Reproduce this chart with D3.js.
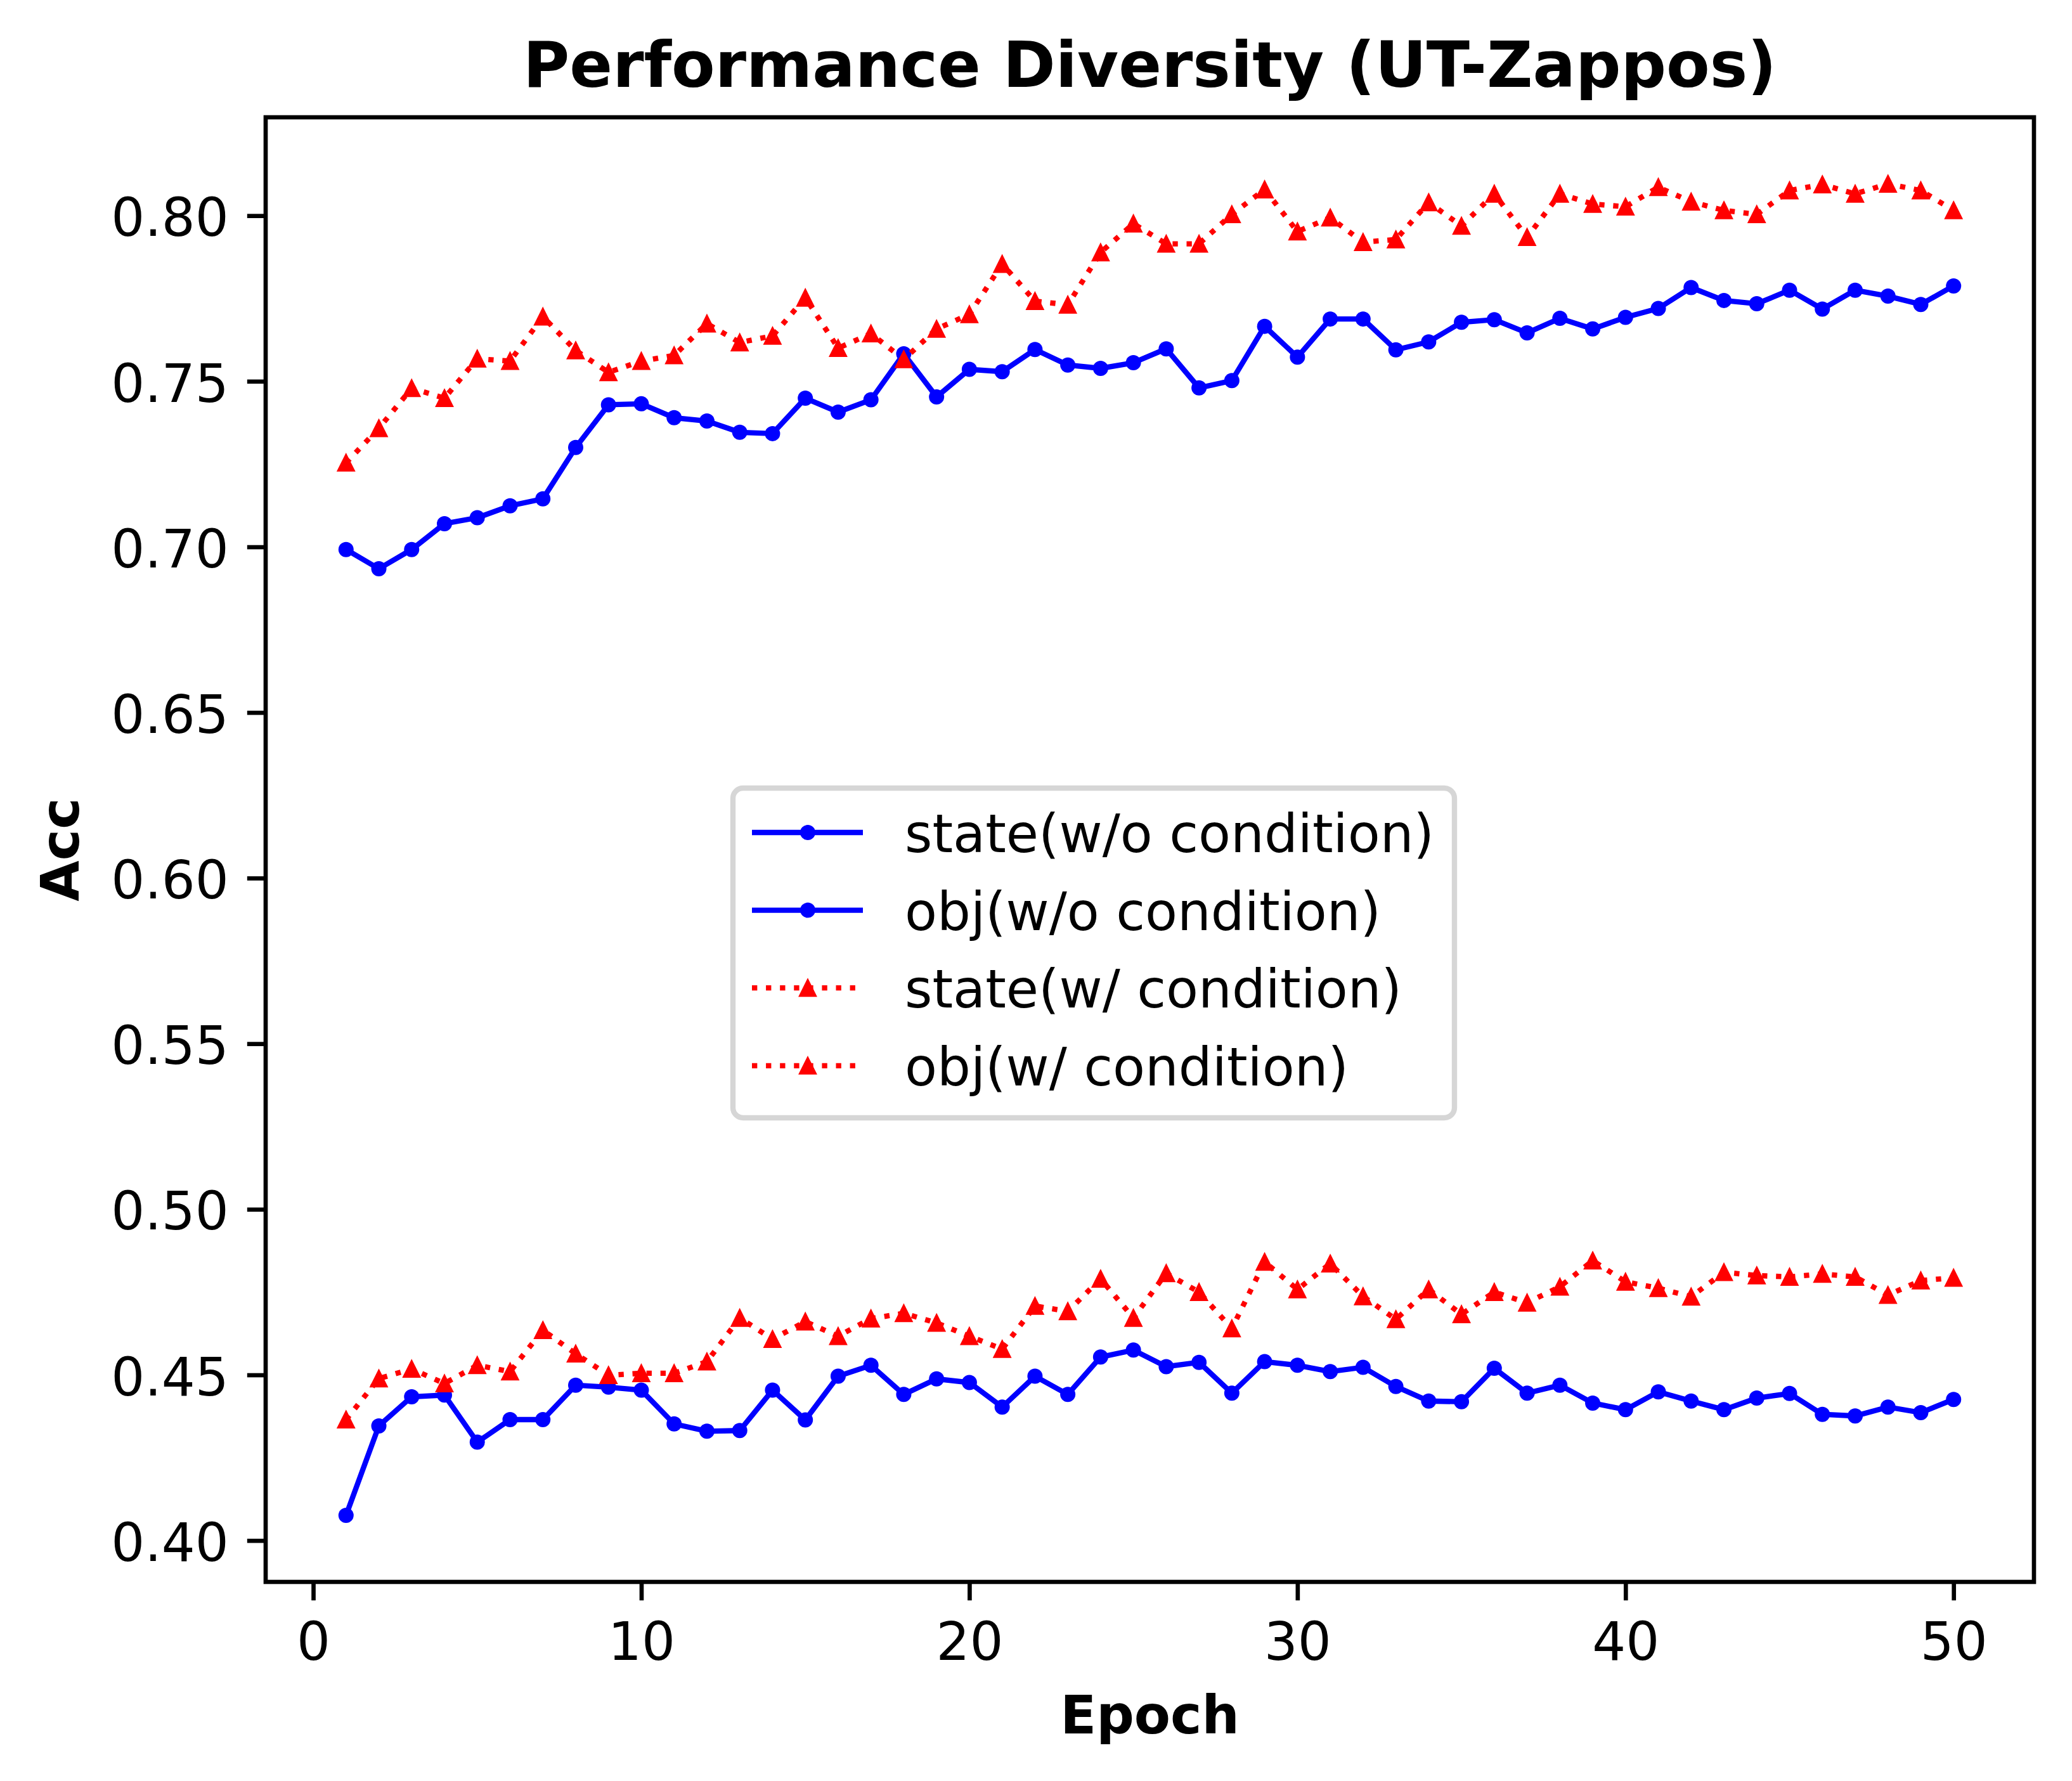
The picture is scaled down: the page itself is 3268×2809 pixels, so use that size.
<!DOCTYPE html>
<html>
<head>
<meta charset="utf-8">
<script src="https://cdn.jsdelivr.net/npm/d3@7"></script>
<style>
  body { margin: 0; background: #fff; }
  text { font-family: "DejaVu Sans", sans-serif; }
</style>
</head>
<body>
<svg id="chart"></svg>
<script>
// Epochs on the x axis
var epochs = [1, 2, 3, 4, 5, 6, 7, 8, 9, 10, 11, 12, 13, 14, 15, 16, 17, 18, 19, 20,
    21, 22, 23, 24, 25, 26, 27, 28, 29, 30, 31, 32, 33, 34, 35, 36, 37, 38, 39, 40,
    41, 42, 43, 44, 45, 46, 47, 48, 49, 50];

// Accuracy series
var stateWo = [0.4076, 0.4346, 0.4434, 0.4439, 0.4297, 0.4365, 0.4365, 0.4469, 0.4463, 0.4454,
    0.4352, 0.4330, 0.4332, 0.4454, 0.4364, 0.4496, 0.4529, 0.4441, 0.4488, 0.4477,
    0.4403, 0.4496, 0.4441, 0.4554, 0.4575, 0.4525, 0.4538, 0.4445, 0.4540, 0.4529,
    0.4510, 0.4523, 0.4465, 0.4421, 0.4419, 0.4520, 0.4445, 0.4469, 0.4415, 0.4395,
    0.4449, 0.4421, 0.4395, 0.4430, 0.4444, 0.4381, 0.4376, 0.4403, 0.4386, 0.4426];

var objWo = [0.6992, 0.6934, 0.6992, 0.7070, 0.7088, 0.7124, 0.7145, 0.7300, 0.7429, 0.7432,
    0.7390, 0.7380, 0.7346, 0.7342, 0.7449, 0.7407, 0.7444, 0.7583, 0.7453, 0.7536,
    0.7529, 0.7596, 0.7549, 0.7539, 0.7556, 0.7598, 0.7480, 0.7502, 0.7666, 0.7573,
    0.7688, 0.7688, 0.7595, 0.7619, 0.7678, 0.7686, 0.7646, 0.7690, 0.7658, 0.7693,
    0.7720, 0.7783, 0.7744, 0.7734, 0.7775, 0.7718, 0.7775, 0.7757, 0.7732, 0.7788];

var stateW = [0.4365, 0.4489, 0.4518, 0.4474, 0.4529, 0.4510, 0.4635, 0.4564, 0.4499, 0.4505,
    0.4505, 0.4540, 0.4672, 0.4608, 0.4661, 0.4617, 0.4670, 0.4686, 0.4657, 0.4617,
    0.4578, 0.4708, 0.4692, 0.4790, 0.4672, 0.4807, 0.4750, 0.4640, 0.4841, 0.4758,
    0.4836, 0.4737, 0.4668, 0.4758, 0.4683, 0.4750, 0.4718, 0.4766, 0.4845, 0.4781,
    0.4762, 0.4736, 0.4810, 0.4800, 0.4796, 0.4805, 0.4796, 0.4741, 0.4785, 0.4793];

var objW = [0.7254, 0.7358, 0.7479, 0.7449, 0.7568, 0.7561, 0.7695, 0.7593, 0.7527, 0.7561,
    0.7578, 0.7674, 0.7617, 0.7637, 0.7752, 0.7600, 0.7644, 0.7566, 0.7658, 0.7702,
    0.7854, 0.7742, 0.7731, 0.7889, 0.7976, 0.7915, 0.7915, 0.8004, 0.8079, 0.7952,
    0.7994, 0.7920, 0.7928, 0.8040, 0.7969, 0.8066, 0.7935, 0.8066, 0.8035, 0.8027,
    0.8086, 0.8042, 0.8016, 0.8004, 0.8076, 0.8094, 0.8066, 0.8096, 0.8076, 0.8016];

var seriesLabels = ["state(w/o condition)", "obj(w/o condition)", "state(w/ condition)", "obj(w/ condition)"];
var xTicks = [0, 10, 20, 30, 40, 50];
var yTicks = [0.40, 0.45, 0.50, 0.55, 0.60, 0.65, 0.70, 0.75, 0.80];

var titleText = "Performance Diversity (UT-Zappos)";
var xLabel = "Epoch";
var yLabel = "Acc";

// Figure size and axes box (pixels at 600 dpi)
const W = 3268, H = 2809;
const margin = {top: 185, left: 419, right: W - 3208, bottom: H - 2495};
const pt = 600 / 72;   // one point in pixels

var series = [
    {label: seriesLabels[0], values: stateWo, color: "#0000ff", dash: null, marker: "circle"},
    {label: seriesLabels[1], values: objWo, color: "#0000ff", dash: null, marker: "circle"},
    {label: seriesLabels[2], values: stateW, color: "#ff0000", dash: [1 * pt, 1.65 * pt], marker: "triangle"},
    {label: seriesLabels[3], values: objW, color: "#ff0000", dash: [1 * pt, 1.65 * pt], marker: "triangle"}
];

var svg = d3.select("#chart")
    .attr("width", W)
    .attr("height", H);

// Scales with matplotlib-like 5% margins
var xExt = d3.extent(epochs);
var xPad = (xExt[1] - xExt[0]) * 0.05;
var x = d3.scaleLinear()
    .domain([xExt[0] - xPad, xExt[1] + xPad])
    .range([margin.left, W - margin.right]);

var allVals = [].concat(stateWo, objWo, stateW, objW);
var yExt = d3.extent(allVals);
var yPad = (yExt[1] - yExt[0]) * 0.05;
var y = d3.scaleLinear()
    .domain([yExt[0] - yPad, yExt[1] + yPad])
    .range([H - margin.bottom, margin.top]);

var line = d3.line()
    .x(function(d, i) { return x(epochs[i]); })
    .y(function(d) { return y(d); });

// triangle marker path, centered on bbox middle like matplotlib '^'
function triPath(s) {
    return "M0," + (-s) + "L" + s + "," + s + "L" + (-s) + "," + s + "Z";
}

function drawMarker(sel, s) {
    if (s.marker === "circle") {
        sel.append("circle")
            .attr("r", 12)
            .attr("fill", s.color);
    } else {
        sel.append("path")
            .attr("d", triPath(12.5))
            .attr("fill", s.color)
            .attr("stroke", s.color)
            .attr("stroke-width", 3)
            .attr("stroke-linejoin", "miter");
    }
}

// Lines and markers
series.forEach(function(s) {
    var g = svg.append("g");
    g.append("path")
        .datum(s.values)
        .attr("fill", "none")
        .attr("stroke", s.color)
        .attr("stroke-width", 1 * pt)
        .attr("stroke-dasharray", s.dash ? s.dash.join(",") : null)
        .attr("d", line);

    g.selectAll(".m")
        .data(s.values).enter()
        .append("g")
        .attr("class", "m")
        .attr("transform", function(d, i) { return `translate(${x(epochs[i])},${y(d)})`; })
        .each(function() { drawMarker(d3.select(this), s); });
});

// Axes
var fontSize = 10 * pt;

var xAxis = svg.append("g")
    .attr("transform", `translate(0,${H - margin.bottom})`)
    .call(d3.axisBottom(x)
        .tickValues(xTicks)
        .tickSize(3.5 * pt)
        .tickPadding(35)
        .tickFormat(d3.format("d")));

var yAxis = svg.append("g")
    .attr("transform", `translate(${margin.left},0)`)
    .call(d3.axisLeft(y)
        .tickValues(yTicks)
        .tickSize(3.5 * pt)
        .tickPadding(3.5 * pt)
        .tickFormat(d3.format(".2f")));

[xAxis, yAxis].forEach(function(a) {
    a.select(".domain").remove();
    a.selectAll(".tick line")
        .attr("stroke", "#000")
        .attr("stroke-width", 0.8 * pt);
    a.selectAll(".tick text")
        .attr("fill", "#000")
        .style("font-family", "'DejaVu Sans', sans-serif")
        .style("font-size", fontSize + "px");
});
yAxis.selectAll(".tick text").attr("dy", "0.38em");

// Frame
svg.append("rect")
    .attr("x", margin.left)
    .attr("y", margin.top)
    .attr("width", W - margin.left - margin.right)
    .attr("height", H - margin.top - margin.bottom)
    .attr("fill", "none")
    .attr("stroke", "#000")
    .attr("stroke-width", 0.8 * pt);

// Title and axis labels
var cx = (margin.left + W - margin.right) / 2;
var cy = (margin.top + H - margin.bottom) / 2;

svg.append("text")
    .attr("x", cx)
    .attr("y", 137)
    .attr("text-anchor", "middle")
    .style("font-size", 12 * pt + "px")
    .style("font-weight", "bold")
    .text(titleText);

svg.append("text")
    .attr("x", cx)
    .attr("y", 2734)
    .attr("text-anchor", "middle")
    .style("font-size", fontSize + "px")
    .style("font-weight", "bold")
    .text(xLabel);

svg.append("text")
    .attr("transform", `translate(124,${cy}) rotate(-90)`)
    .attr("text-anchor", "middle")
    .style("font-size", fontSize + "px")
    .style("font-weight", "bold")
    .text(yLabel);

// Legend
var legend = svg.append("g")
    .attr("transform", "translate(1156,1243)");

legend.append("rect")
    .attr("width", 1138)
    .attr("height", 520)
    .attr("rx", 16)
    .attr("fill", "#fff")
    .attr("fill-opacity", 0.8)
    .attr("stroke", "#d6d6d6")
    .attr("stroke-width", 1 * pt);

var rowH = 122.6;
series.forEach(function(s, i) {
    var row = legend.append("g")
        .attr("transform", `translate(0,${70 + i * rowH})`);
    row.append("line")
        .attr("x1", 30).attr("x2", 205)
        .attr("stroke", s.color)
        .attr("stroke-width", 1 * pt)
        .attr("stroke-dasharray", s.dash ? s.dash.join(",") : null);
    var m = row.append("g").attr("transform", "translate(118,0)");
    drawMarker(m, s);
    row.append("text")
        .attr("x", 271)
        .attr("y", 31)
        .style("font-size", fontSize + "px")
        .text(s.label);
});
</script>
</body>
</html>
